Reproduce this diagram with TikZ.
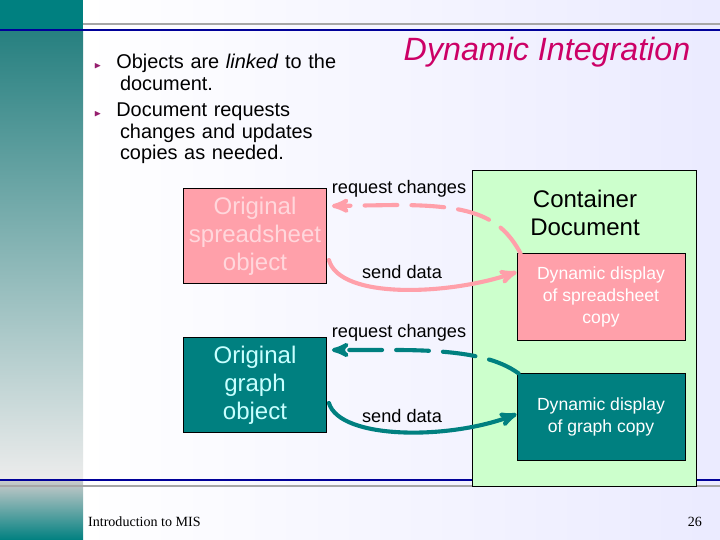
\documentclass[tikz,border=0pt]{standalone}
\usepackage{amssymb}
\usepackage{fontspec}
\setmainfont{Liberation Sans}
\newfontfamily\footfont{Liberation Serif}
\usetikzlibrary{arrows,shapes,calc,positioning}
\definecolor{teal}{RGB}{0,128,128}
\definecolor{pinkbox}{RGB}{255,160,170}
\definecolor{pinktext}{RGB}{255,215,220}
\definecolor{cyantext}{RGB}{200,255,255}
\definecolor{greenbg}{RGB}{204,255,204}
\definecolor{titlered}{RGB}{204,0,102}
\definecolor{bulletc}{RGB}{150,30,110}
\tikzset{
    >=stealth',
    obj/.style={draw=black,rectangle,minimum width=4.3cm,minimum height=2.85cm,
        align=center,font=\fontsize{20.5}{24}\selectfont,inner sep=0pt},
    disp/.style={draw=black,rectangle,minimum width=5.05cm,minimum height=2.6cm,
        align=center,text=white,font=\fontsize{15}{18.5}\selectfont,inner sep=0pt},
    lbl/.style={font=\fontsize{15.5}{17}\selectfont},
    link/.style={line width=3.5pt,line cap=round},
}
\begin{document}
\begin{tikzpicture}[x=0.03cm,y=-0.03cm]
            \useasboundingbox (0,0) rectangle (720,540);
            \shade[left color=white,right color=blue!8] (83,0) rectangle (720,540);
            \fill[teal] (0,0) rectangle (83,30);
            \shade[top color=teal!70!gray,bottom color=gray!15] (0,30) rectangle (83,480);
            \shade[top color=gray!40,bottom color=teal] (0,480) rectangle (83,540);
            \draw[gray!70,line width=1.2pt] (83,24) -- (720,24);
            \draw[blue!60!black,line width=1.2pt] (0,30) -- (720,30);
            \draw[blue!60!black,line width=1.2pt] (0,480) -- (720,480);
            \draw[gray!70,line width=1.2pt] (0,486) -- (720,486);

            % bullets and title
            \node[anchor=north west,align=left,text width=9cm,font=\fontsize{17}{18.5}\selectfont] (bul) at (90,50)
                {\textcolor{bulletc}{\footnotesize$\blacktriangleright$}\hspace{0.75em}Objects are \textit{linked} to the\\
                 \hspace{1.3em}document.\\[4pt]
                 \textcolor{bulletc}{\footnotesize$\blacktriangleright$}\hspace{0.75em}Document requests\\
                 \hspace{1.3em}changes and updates\\
                 \hspace{1.3em}copies as needed.};
            \node[text=titlered,font=\fontsize{27.5}{30}\selectfont\itshape] (title) at (547,52) {Dynamic Integration};

            % container
            \node[draw=black,fill=greenbg,minimum width=6.72cm,minimum height=9.48cm,inner sep=0pt] (cont) at (584,328) {};
            \node[align=center,font=\fontsize{20.5}{24.5}\selectfont] (ctitle) at (585,213) {Container\\Document};

            \node[obj,fill=pinkbox,text=pinktext] (sheet) at (255,236) {Original\\spreadsheet\\object};
            \node[obj,fill=teal,text=cyantext] (graph) at (255,385) {Original\\graph\\object};
            \node[disp,fill=pinkbox] (dsheet) at (601,297) {Dynamic display\\of spreadsheet\\copy};
            \node[disp,fill=teal] (dgraph) at (601,417) {Dynamic display\\of graph copy};

            \node[lbl] (req1) at (399,189) {request changes};
            \node[lbl] (send1) at (402,272) {send data};
            \node[lbl] (req2) at (399,333) {request changes};
            \node[lbl] (send2) at (402,416) {send data};

            % connectors
            \draw[link,pinkbox,dashed,dash pattern=on 28pt off 12pt,->] ($(dsheet.north west)+(4,0)$)
                .. controls (500,215) and (470,205) .. (395,205) -- ($(sheet.east)+(5,-30)$);
            \draw[link,pinkbox,->] ($(sheet.east)+(2,24)$) .. controls (340,300) and (450,295) .. (dsheet.west |- 0,272);
            \draw[link,teal,dashed,dash pattern=on 28pt off 12pt,->] ($(dgraph.north west)+(2,0)$)
                .. controls (500,360) and (470,350) .. (395,350) -- ($(graph.east)+(5,-35)$);
            \draw[link,teal,->] ($(graph.east)+(2,18)$) .. controls (340,440) and (450,440) .. (dgraph.west |- 0,414);

            \node[anchor=west,font=\footfont\fontsize{12}{14}\selectfont] (foot) at (84,522) {Introduction to MIS};
            \node[anchor=east,font=\footfont\fontsize{12}{14}\selectfont] (page) at (706,522) {26};
\end{tikzpicture}
\end{document}
